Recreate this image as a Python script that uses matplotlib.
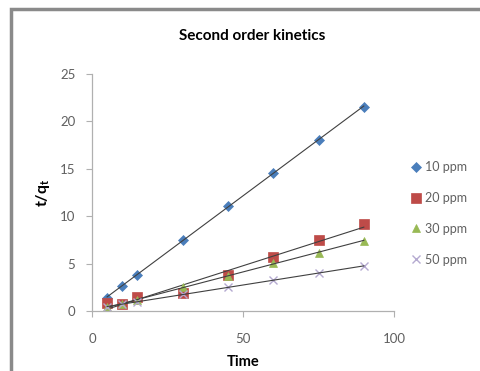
import numpy as np
import matplotlib.pyplot as plt
from matplotlib.patches import Rectangle

plt.rcParams['font.family'] = ['Lato', 'DejaVu Sans']

# data
time = [5, 10, 15, 30, 45, 60, 75, 90]
ppm10 = [1.4, 2.6, 3.85, 7.5, 11.1, 14.6, 18.05, 21.5]
ppm20 = [0.8, 0.7, 1.5, 1.85, 3.8, 5.7, 7.5, 9.2]
ppm30 = [0.4, 0.7, 1.2, 2.5, 3.7, 5.1, 6.15, 7.4]
ppm50 = [0.4, 0.7, 1.0, 1.8, 2.5, 3.3, 4.0, 4.7]
labels = ['10 ppm', '20 ppm', '30 ppm', '50 ppm']

series = [ppm10, ppm20, ppm30, ppm50]
markers = ['D', 's', '^', 'x']
colors = ['#4a7ebb', '#be4b48', '#98b954', '#b5aad0']
msizes = [5.5, 7, 6, 5.5]

fig = plt.figure(figsize=(4.81, 3.71), dpi=100)
ax = fig.add_axes([92/481, 1-311/371, (394-92)/481, (311-74)/371])

x = np.array(time)
for ys, m, c, ms, lab in zip(series, markers, colors, msizes, labels):
    ax.plot(x, ys, linestyle='none', marker=m, color=c, markersize=ms,
            markeredgewidth=1.0 if m == 'x' else 0.5, label=lab)
    # linear trendline
    k, b = np.polyfit(x, ys, 1)
    xx = np.array([x.min(), x.max()])
    ax.plot(xx, k*xx + b, color='#404040', lw=0.8)

ax.set_xlim(0, 100)
ax.set_ylim(0, 25)
ax.set_xticks([0, 50, 100])
ax.set_yticks([0, 5, 10, 15, 20, 25])
for s in ['top', 'right']:
    ax.spines[s].set_visible(False)
for s in ['left', 'bottom']:
    ax.spines[s].set_color('#b0b0b0')
    ax.spines[s].set_linewidth(0.9)
ax.tick_params(colors='#b0b0b0', labelcolor='#606060', labelsize=9.5,
               length=4, direction='out')
ax.tick_params(axis='x', pad=12)
ax.tick_params(axis='y', pad=8)

ax.set_xlabel('Time', fontsize=10.5, fontweight='bold', labelpad=7)
ax.set_ylabel('t/q$_\\mathregular{t}$', fontsize=11.5, fontweight='bold', labelpad=6)
fig.text(252/481, 1-36/371, 'Second order kinetics', ha='center', va='center',
         fontsize=11, fontweight='bold')

fig.legend(loc='upper left', bbox_to_anchor=(400/481, 1-150/371), frameon=False,
           fontsize=9, labelspacing=1.5, handlelength=0.8, handletextpad=0.3,
           labelcolor='#606060')

# frame around the picture
fig.add_artist(Rectangle((11/481, -0.1), 1.2, 1-9/371+0.1, transform=fig.transFigure,
                         fill=False, edgecolor='#8a8a8a', lw=2.5))

fig.savefig('out.png', dpi=100)
